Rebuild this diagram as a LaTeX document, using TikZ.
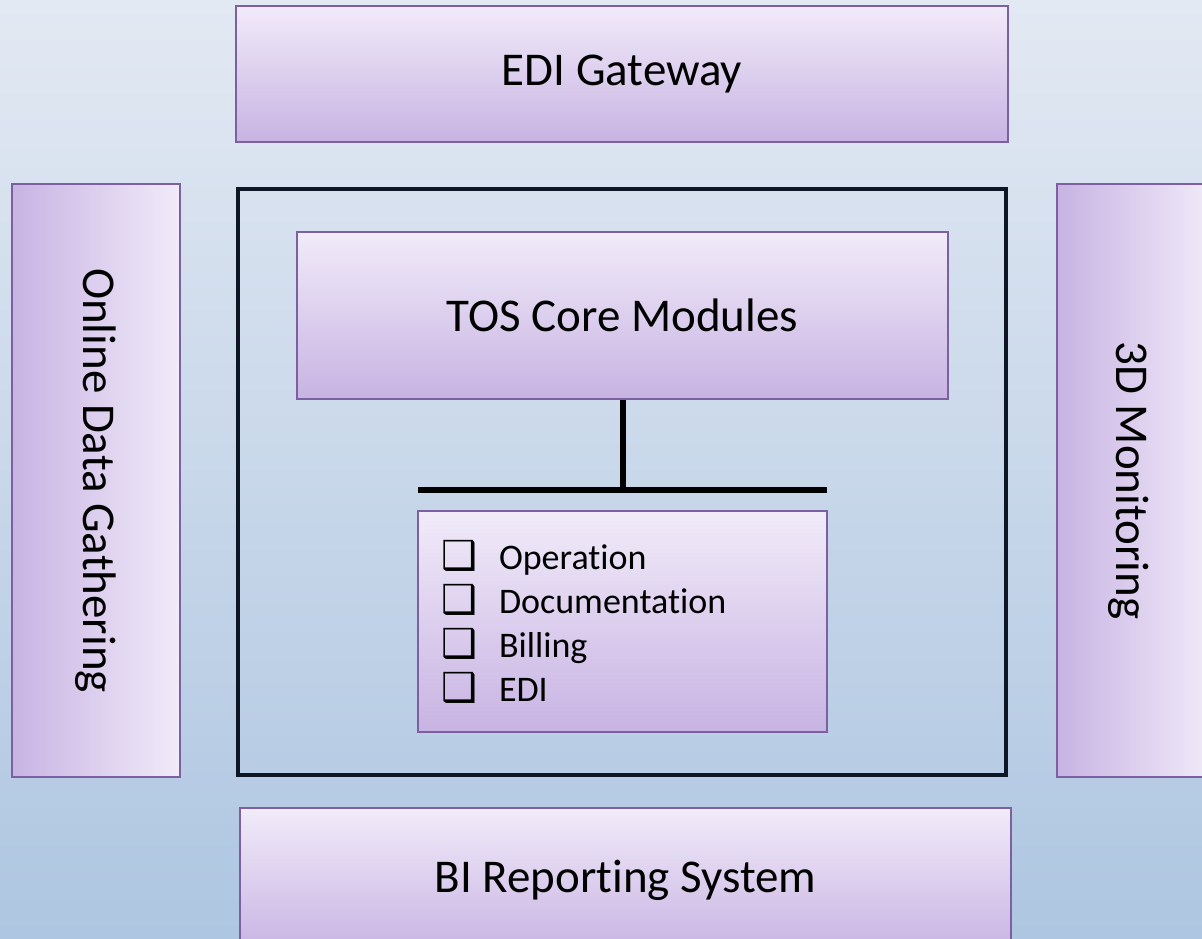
\documentclass[tikz,border=0pt]{standalone}
\usepackage{fontspec}
\setmainfont[Ligatures = NoCommon]{Carlito}
\newfontfamily\symfont{DejaVu Sans}
\usepackage{graphicx}
\usepackage{tikz}

\definecolor{bgtop}{RGB}{227,233,243}
\definecolor{bgbot}{RGB}{174,198,225}
\definecolor{boxtop}{RGB}{241,235,249}
\definecolor{boxbot}{RGB}{200,179,227}
\definecolor{boxline}{RGB}{124,96,160}
\definecolor{frameline}{RGB}{12,22,36}

\newcommand{\chk}{\makebox[58pt][l]{\symfont\bfseries\fontsize{40}{40}\selectfont ❑}}

\begin{document}
\begin{tikzpicture}[x = 1pt, y = -1pt, font = \fontsize{47}{56}\selectfont,
  hbox/.style = {draw = boxline, line width = 2.5pt, top color = boxtop, bottom color = boxbot},
  vbox/.style = {draw = boxline, line width = 2.5pt, left color = boxbot, right color = boxtop},
  listbox/.style = {hbox, minimum width = 409pt, minimum height = 221pt, text width = 363pt,
    inner xsep = 23pt, align = left, font = \fontsize{36}{44}\selectfont},
  bus/.style = {line width = 6pt}]
\useasboundingbox (0,0) rectangle (1202,939);
\fill [top color = bgtop, bottom color = bgbot] (0,0) rectangle (1202,939);
\clip (0,0) rectangle (1202,939);
\node [hbox, minimum width = 772pt, minimum height = 136pt] (edi) at (622,74) {EDI Gateway};
\node [vbox, minimum width = 168pt, minimum height = 593pt] (odg) at (96,480.5) {\rotatebox{-90}{Online Data Gathering}};
\node [vbox, minimum width = 156pt, minimum height = 593pt] (mon) at (1135,480.5) {\rotatebox{-90}{\raisebox{-6pt}[\height][\depth]{3D Monitoring}}};
\node [hbox, minimum width = 771pt, minimum height = 144pt] (bi) at (625.5,880) {BI Reporting System};
\node [draw = frameline, line width = 4pt, minimum width = 768pt, minimum height = 586pt] (core) at (622,482) {};
\node [hbox, minimum width = 651pt, minimum height = 167pt] (tos) at (622.5,315.5) {TOS Core Modules};
\node [listbox] (mods) at (622.5,621.5) {\chk Operation\\ \chk Documentation\\ \chk Billing\\ \chk EDI};
\coordinate (busl) at (418,490);
\coordinate (busr) at (827,490);
\draw [bus] (tos.south) -- (tos.south |- busl);
\draw [bus] (busl) -- (busr);
\end{tikzpicture}
\end{document}
